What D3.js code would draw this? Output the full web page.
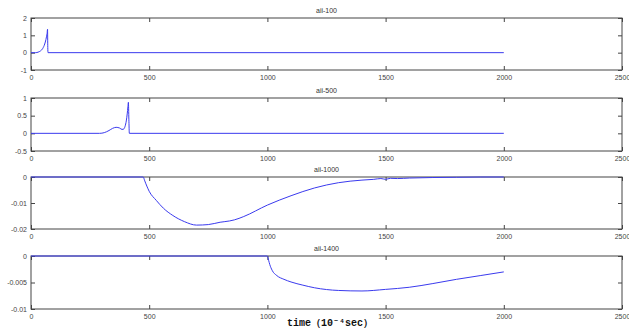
<!DOCTYPE html>
<html><head><meta charset="utf-8">
<script src="https://cdn.jsdelivr.net/npm/d3@7"></script>
<style>body{margin:0;background:#fff}svg{display:block}</style>
</head><body>
<svg id="c" width="629" height="331"></svg>
<script>
const titles = ["aii-100","aii-500","aii-1000","aii-1400"];
const xTicks = [0,500,1000,1500,2000,2500];
const yDomains = [[-1,2],[-0.5,1],[-0.02,0],[-0.01,0]];
const yTicks = [[-1,0,1,2],[-0.5,0,0.5,1],[-0.02,-0.01,0],[-0.01,-0.005,0]];
const yTickLabels = [["-1","0","1","2"],["-0.5","0","0.5","1"],["-0.02","-0.01","0"],["-0.01","-0.005","0"]];

const s1x = [0,20,30,40,50,58,63,66,68,70,71,72,2000];
const s1y = [0,0,0.03,0.1,0.25,0.5,0.75,0.95,1.1,1.35,0.3,0,0];
const s2x = [0,290,310,330,345,360,375,385,392,398,403,407,410,412,414,416,2000];
const s2y = [0,0,0.02,0.08,0.14,0.17,0.15,0.11,0.12,0.2,0.35,0.55,0.75,0.88,0.4,0,0];
const s3x = [0,475,480,490,500,530,560,600,650,700,750,800,840,860,900,1000,1100,1200,1300,1400,1450,1480,1500,1520,1550,1600,1700,1800,1900,2000];
const s3y = [0,0,-0.0012,-0.0035,-0.0055,-0.009,-0.012,-0.0148,-0.0172,-0.0185,-0.0183,-0.0174,-0.0169,-0.0165,-0.0152,-0.0108,-0.0072,-0.0042,-0.0022,-0.0012,-0.0009,-0.0006,-0.0009,-0.0005,-0.0006,-0.0004,-0.0002,-0.0001,0,0];
const s4x = [0,1000,1005,1010,1020,1040,1070,1100,1150,1200,1300,1400,1500,1600,1700,1800,1900,2000];
const s4y = [0,0,-0.0008,-0.0016,-0.0027,-0.0037,-0.0044,-0.0049,-0.0055,-0.006,-0.0065,-0.0066,-0.0063,-0.0059,-0.0052,-0.0044,-0.0037,-0.003];
const seriesX = [s1x,s2x,s3x,s4x];
const seriesY = [s1y,s2y,s3y,s4y];

const panels = [{top:18,bottom:70},{top:98,bottom:151},{top:177,bottom:229},{top:256,bottom:309}];
const left = 31, right = 622;
const svg = d3.select("#c");
const axisCol = "#444";
const x = d3.scaleLinear().domain([0,2500]).range([left,right]);

panels.forEach((p,i)=>{
  const y = d3.scaleLinear().domain(yDomains[i]).range([p.bottom,p.top]);
  const g = svg.append("g");
  g.append("rect").attr("x",left).attr("y",p.top).attr("width",right-left).attr("height",p.bottom-p.top)
    .attr("fill","#fff").attr("stroke",axisCol).attr("stroke-width",1);
  const styleAxis = sel => {
    sel.select(".domain").remove();
    sel.selectAll(".tick line").attr("stroke",axisCol);
    sel.selectAll(".tick text").attr("fill","#444").style("font-family","Liberation Sans, Arial, sans-serif").style("font-size","7px");
  };
  g.append("g").attr("transform",`translate(0,${p.bottom})`)
    .call(d3.axisBottom(x).tickValues(xTicks).tickSizeInner(-4).tickSizeOuter(0).tickPadding(5).tickFormat(d3.format("d")))
    .call(styleAxis);
  g.append("g").attr("transform",`translate(0,${p.top})`)
    .call(d3.axisTop(x).tickValues(xTicks).tickSizeInner(-4).tickSizeOuter(0).tickFormat(""))
    .call(styleAxis);
  g.append("g").attr("transform",`translate(${left},0)`)
    .call(d3.axisLeft(y).tickValues(yTicks[i]).tickSizeInner(-4).tickSizeOuter(0).tickPadding(4).tickFormat((d,k)=>yTickLabels[i][k]))
    .call(styleAxis);
  g.append("g").attr("transform",`translate(${right},0)`)
    .call(d3.axisRight(y).tickValues(yTicks[i]).tickSizeInner(-4).tickSizeOuter(0).tickFormat(""))
    .call(styleAxis);
  const data = seriesX[i].map((v,k)=>[v,seriesY[i][k]]);
  g.append("path").datum(data)
    .attr("fill","none").attr("stroke","#3a3aee").attr("stroke-width",1)
    .attr("d",d3.line().curve(d3.curveMonotoneX).x(d=>x(d[0])).y(d=>y(d[1])));
  g.append("text").attr("x",(left+right)/2).attr("y",p.top-5).attr("text-anchor","middle")
    .style("font-family","Liberation Sans, Arial, sans-serif").style("font-size","7px").attr("fill","#333")
    .text(titles[i]);
});

svg.append("text").attr("x",330).attr("y",326).attr("text-anchor","middle")
  .style("font-family","Liberation Mono, DejaVu Sans Mono, monospace").style("font-size","10px").style("font-weight","bold")
  .attr("fill","#111").text("time（10⁻⁴sec）");
</script>
</body></html>
